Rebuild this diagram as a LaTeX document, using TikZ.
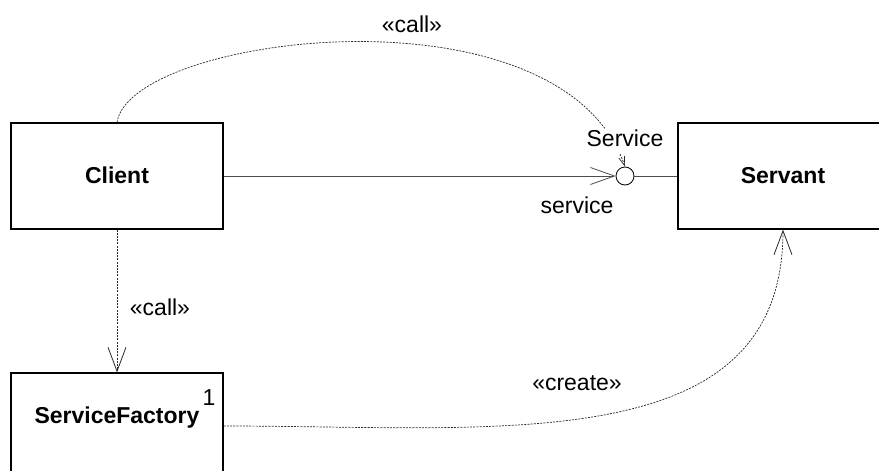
\documentclass[tikz,border=0pt]{standalone}
\usepackage{fontspec}
\setmainfont{Liberation Sans}
\usetikzlibrary{arrows.meta}
\begin{document}
\begin{tikzpicture}[x=1pt,y=-1pt,
  box/.style={draw=black,line width=1.2pt,minimum width=212pt,minimum height=106pt,inner sep=0pt},
  lbl/.style={font=\fontsize{23}{27}\selectfont,inner sep=0pt,anchor=base},
  bold/.style={font=\fontsize{23}{27}\selectfont\bfseries,inner sep=0pt,anchor=base},
  solidline/.style={draw=black!70,line width=0.9pt},
  dep/.style={draw=black!85,line width=0.7pt,dash pattern=on 2pt off 1.2pt},
  opentip/.style={-{Straight Barb[length=24pt,width=18pt,line width=0.8pt]}},
  smalltip/.style={-{Straight Barb[length=9pt,width=6pt,line width=0.7pt]}}
]
\useasboundingbox (0,0) rectangle (879,471);
\clip (0,0) rectangle (879,471);

\node[box] (client) at (117,176) {};
\node[box,minimum width=210pt] (servant) at (783,176) {};
\node[box] (factory) at (117,426) {};
\node[circle,draw=black,line width=0.8pt,minimum size=18pt,inner sep=0pt] (iface) at (625,176) {};

\node[bold] (clientname) at (117,183) {Client};
\node[bold] (servantname) at (783,183) {Servant};
\node[bold] (factoryname) at (117,423) {ServiceFactory};
\node[lbl] (one) at (209,405) {1};

\draw[solidline,-{Straight Barb[length=24pt,width=17pt,line width=0.8pt]}] (client.east) -- (iface.west);
\draw[solidline] (iface.east) -- (servant.west);

\draw[dep,smalltip] (client.north) .. controls (130,35) and (560,-20) .. (iface.north);
\node[lbl,fill=white,text depth=8pt] (svclbl) at (625,146) {Service};

\draw[dep,opentip] (client.south) -- (factory.north);
\draw[dep,opentip] (factory.east) .. controls (500,426) and (783,460) .. (servant.south);

\node[lbl] (svc) at (577,213) {service};
\node[lbl] (call1) at (412,32) {«call»};
\node[lbl] (call2) at (160,315) {«call»};
\node[lbl] (create) at (577,390) {«create»};
\end{tikzpicture}
\end{document}
